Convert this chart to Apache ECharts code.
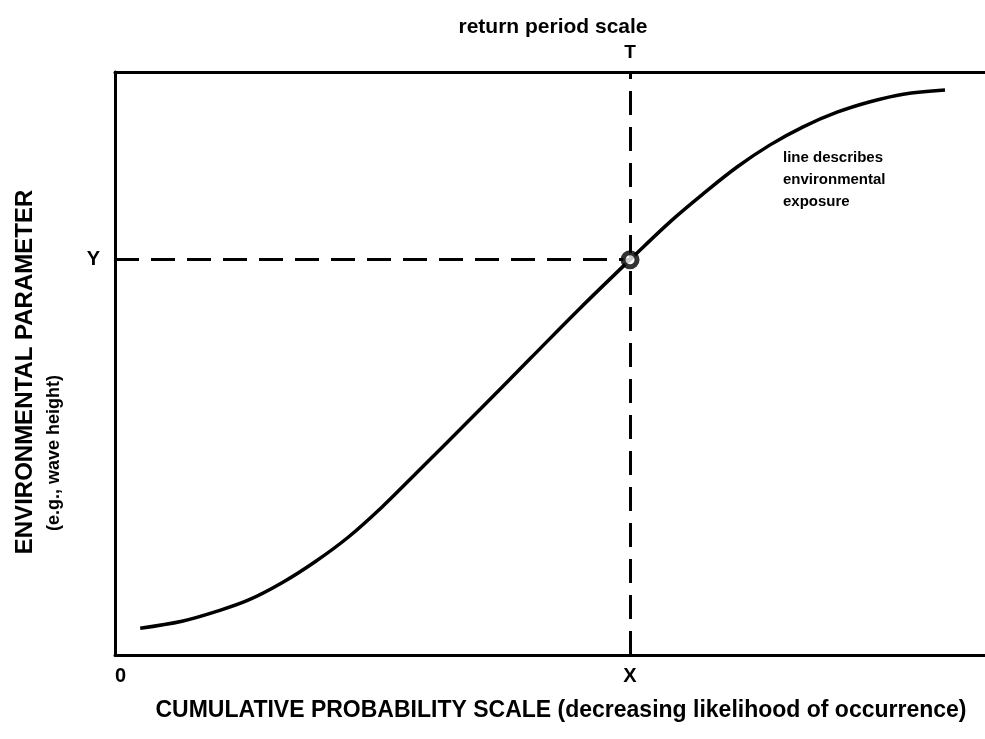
<!DOCTYPE html>
<html>
<head>
<meta charset="utf-8">
<script src="https://cdn.jsdelivr.net/npm/echarts@6/dist/echarts.min.js"></script>
<style>
html,body{margin:0;padding:0;background:#fff;}
#chart{width:985px;height:739px;}
</style>
</head>
<body>
<div id="chart"></div>
<script>
// Curve: cumulative probability (x, 0-100) vs environmental parameter (y, 0-100)
const curveX = [2.9, 7.7, 11.5, 15.3, 19.2, 23.0, 26.8, 30.7, 34.5, 42.0, 47.7, 53.4, 59.2, 63.8, 67.6, 71.5, 75.3, 79.1, 83.0, 86.8, 90.6, 95.4];
const curveY = [4.6, 5.8, 7.4, 9.4, 12.4, 16.0, 20.2, 25.4, 31.0, 42.2, 50.8, 59.4, 67.8, 74.3, 79.1, 83.7, 87.5, 90.6, 93.1, 94.9, 96.2, 96.9];
// Highlighted design point
const pointX = [59.2];
const pointY = [67.8];
// Tick labels
const xTickValues = [0, 59.2];
const xTickLabels = ['0', 'X'];
const yTickValues = [67.8];
const yTickLabels = ['Y'];
const topTickValues = [59.2];
const topTickLabels = ['T'];
const xAxisName = 'CUMULATIVE PROBABILITY SCALE (decreasing likelihood of occurrence)';
const topAxisName = 'return period scale';
const yAxisName1 = 'ENVIRONMENTAL PARAMETER';
const yAxisName2 = '(e.g., wave height)';
const annotation = ['line describes', 'environmental', 'exposure'];

const FONT = '"Liberation Sans", Arial, Helvetica, sans-serif';
const chart = echarts.init(document.getElementById('chart'));

function lbl(values, labels) {
  return v => {
    for (let i = 0; i < values.length; i++) if (Math.abs(values[i] - v) < 1e-6) return labels[i];
    return '';
  };
}

const option = {
  animation: false,
  backgroundColor: '#fff',
  grid: {left: 115, right: 0, top: 72, bottom: 84, containLabel: false},
  xAxis: [{
    type: 'value', min: 0, max: 100, position: 'bottom',
    axisLine: {show: true, onZero: false, lineStyle: {color: '#000', width: 3}},
    axisTick: {show: false},
    splitLine: {show: false},
    axisLabel: {
      customValues: xTickValues, formatter: lbl(xTickValues, xTickLabels),
      color: '#000', fontFamily: FONT, fontWeight: 'bold', fontSize: 20, margin: 11,
      alignMinLabel: 'left'
    }
  }, {
    type: 'value', min: 0, max: 100, position: 'top',
    axisLine: {show: true, onZero: false, lineStyle: {color: '#000', width: 3}},
    axisTick: {show: false},
    splitLine: {show: false},
    axisLabel: {
      customValues: topTickValues, formatter: lbl(topTickValues, topTickLabels),
      color: '#000', fontFamily: FONT, fontWeight: 'bold', fontSize: 19, margin: 10
    }
  }],
  yAxis: [{
    type: 'value', min: 0, max: 100,
    axisLine: {show: true, onZero: false, lineStyle: {color: '#000', width: 3}},
    axisTick: {show: false},
    splitLine: {show: false},
    axisLabel: {
      customValues: yTickValues, formatter: lbl(yTickValues, yTickLabels),
      color: '#000', fontFamily: FONT, fontWeight: 'bold', fontSize: 20, margin: 15
    }
  }],
  graphic: [
    {type: 'text', x: 553, y: 27, style: {text: topAxisName, fill: '#000', font: 'bold 21px ' + FONT, textAlign: 'center', textVerticalAlign: 'middle'}},
    {type: 'text', x: 561, y: 711, style: {text: xAxisName, fill: '#000', font: 'bold 23px ' + FONT, textAlign: 'center', textVerticalAlign: 'middle'}},
    {type: 'text', x: 25, y: 372, rotation: Math.PI / 2, style: {text: yAxisName1, fill: '#000', font: 'bold 24px ' + FONT, textAlign: 'center', textVerticalAlign: 'middle'}},
    {type: 'text', x: 54, y: 453, rotation: Math.PI / 2, style: {text: yAxisName2, fill: '#000', font: 'bold 18px ' + FONT, textAlign: 'center', textVerticalAlign: 'middle'}},
    {type: 'text', x: 783, y: 147, style: {text: annotation.join('\n'), fill: '#000', font: 'bold 15px ' + FONT, lineHeight: 22}}
  ],
  series: [{
    type: 'line',
    data: curveX.map((x, i) => [x, curveY[i]]),
    smooth: 0.35,
    showSymbol: false,
    lineStyle: {color: '#000', width: 3.5},
    markLine: {
      silent: true, symbol: 'none', label: {show: false},
      lineStyle: {color: '#000', width: 3, type: [24, 12]},
      data: [
        [{coord: [0, pointY[0]]}, {coord: [pointX[0], pointY[0]]}],
        [{coord: [pointX[0], 0]}, {coord: [pointX[0], 100]}]
      ]
    },
    z: 3
  }, {
    type: 'scatter',
    data: pointX.map((x, i) => [x, pointY[i]]),
    symbol: 'circle', symbolSize: 14,
    itemStyle: {color: '#fff', borderColor: '#000', borderWidth: 5},
    z: 5
  }]
};
chart.setOption(option);
</script>
</body>
</html>
